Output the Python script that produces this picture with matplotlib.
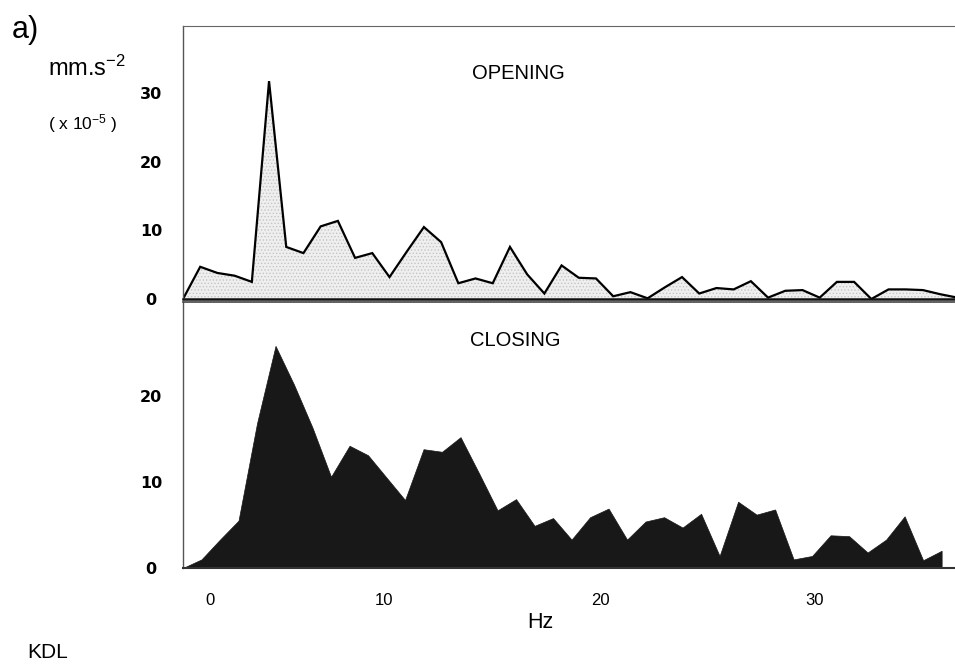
import numpy as np
import matplotlib
matplotlib.use("Agg")
import matplotlib.pyplot as plt

# ---- data ----
opening = [0, 4.7, 3.8, 3.4, 2.5, 31.8, 7.6, 6.7, 10.6, 11.4,
           6.0, 6.7, 3.2, 6.9, 10.5, 8.3, 2.3, 3.0, 2.3, 7.6,
           3.6, 0.8, 4.9, 3.1, 3.0, 0.4, 1.0, 0.1, 1.7, 3.2,
           0.8, 1.6, 1.4, 2.6, 0.2, 1.2, 1.3, 0.2, 2.5, 2.5,
           0.0, 1.4, 1.4, 1.3, 0.7, 0.2]
closing = [0, 1.0, 3.3, 5.5, 16.8, 25.8, 21.3, 16.3, 10.6, 14.2,
           13.1, 10.5, 7.9, 13.8, 13.5, 15.2, 11.0, 6.7, 8.0, 4.9,
           5.8, 3.3, 5.9, 6.9, 3.3, 5.4, 5.9, 4.7, 6.3, 1.4,
           7.7, 6.2, 6.8, 1.0, 1.4, 3.8, 3.7, 1.8, 3.3, 6.0,
           0.9, 2.0]
df_open = 0.837   # Hz per bin (opening spectrum)
df_close = 0.90   # Hz per bin (closing spectrum)
freq_open = np.arange(len(opening)) * df_open
freq_close = np.arange(len(closing)) * df_close

yticks_open = [0, 10, 20, 30]
yticks_close = [0, 10, 20]
xtick_pos = [1.3, 9.8, 20.3, 30.7]
xtick_labels = ['0', '10', '20', '30']

plt.rcParams['font.family'] = ['Liberation Sans', 'DejaVu Sans']
plt.rcParams['mathtext.default'] = 'regular'
plt.rcParams['hatch.linewidth'] = 0.6

W, H = 955, 665
fig = plt.figure(figsize=(W / 100, H / 100), dpi=100)
fig.patch.set_facecolor('white')

def fx(px):
    return px / W

def fy(py):
    return 1 - py / H

left = fx(183)
ax1 = fig.add_axes([left, fy(299), 1.0 - left, fy(26) - fy(299)])
ax2 = fig.add_axes([left, fy(568), 1.0 - left, fy(302) - fy(568)])

xmax = 37.55
for ax in (ax1, ax2):
    ax.set_xlim(0, xmax)
    ax.spines['right'].set_visible(False)
    ax.spines['left'].set_color('#555555')
    ax.spines['left'].set_linewidth(1.0)
    ax.tick_params(axis='y', length=0, pad=23)

# top panel
ax1.fill_between(freq_open, opening, 0, facecolor='#efefef', edgecolor='#c4c4c4',
                 hatch='.....', linewidth=0)
ax1.plot(freq_open, opening, color='black', lw=1.6, solid_joinstyle='miter')
ax1.set_ylim(0, 39.85)
ax1.set_yticks(yticks_open)
ax1.set_xticks([])
ax1.spines['top'].set_color('#666666')
ax1.spines['top'].set_linewidth(0.8)
ax1.spines['bottom'].set_color('#111111')
ax1.spines['bottom'].set_linewidth(1.8)

# bottom panel
ax2.fill_between(freq_close, closing, 0, color='#181818', linewidth=0.5, edgecolor='#181818')
ax2.set_ylim(0, 30.9)
ax2.set_yticks(yticks_close)
ax2.set_xticks(xtick_pos)
ax2.set_xticklabels(xtick_labels, fontsize=12)
ax2.tick_params(axis='x', length=0, pad=18)
ax2.spines['top'].set_color('#444444')
ax2.spines['top'].set_linewidth(1.2)
ax2.spines['bottom'].set_color('#333333')
ax2.spines['bottom'].set_linewidth(1.5)

for ax in (ax1, ax2):
    for lab in ax.get_yticklabels():
        lab.set_horizontalalignment('center')
        lab.set_family(['DejaVu Sans'])
        lab.set_fontweight('bold')
        lab.set_fontsize(11.5)

ax1.text(0.435, 0.825, 'OPENING', transform=ax1.transAxes, ha='center', va='center', fontsize=14.5)
ax2.text(0.430, 0.855, 'CLOSING', transform=ax2.transAxes, ha='center', va='center', fontsize=14.5)

fig.text(fx(12), fy(30), 'a)', fontsize=22, ha='left', va='center')
fig.text(fx(48), fy(68), 'mm.s$^{-2}$', fontsize=17, ha='left', va='center')
fig.text(fx(48), fy(124), '( x 10$^{-5}$ )', fontsize=12.5, ha='left', va='center')
fig.text(fx(540), fy(622), 'Hz', fontsize=15.5, ha='center', va='center')
fig.text(fx(27), fy(652), 'KDL', fontsize=15, ha='left', va='center')

fig.savefig('out.png', dpi=100, facecolor='white')
